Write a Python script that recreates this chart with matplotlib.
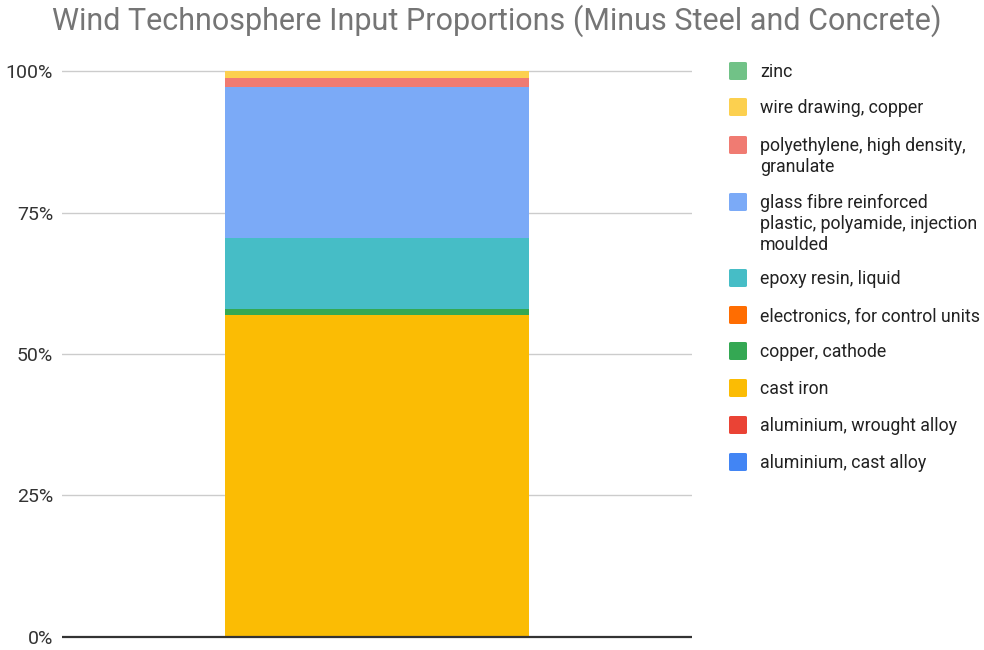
import matplotlib
matplotlib.use("Agg")
import matplotlib.pyplot as plt
from matplotlib.patches import FancyBboxPatch
import numpy as np

# Technosphere inputs, stacking order bottom -> top (percent of total)
materials = [
    "aluminium, cast alloy",
    "aluminium, wrought alloy",
    "cast iron",
    "copper, cathode",
    "electronics, for control units",
    "epoxy resin, liquid",
    "glass fibre reinforced plastic, polyamide, injection moulded",
    "polyethylene, high density, granulate",
    "wire drawing, copper",
    "zinc",
]
shares = [0.10, 0.05, 56.7, 1.1, 0.05, 12.5, 26.8, 1.5, 1.2, 0.02]
colors = ["#4285F4", "#EA4335", "#FBBC04", "#34A853", "#FF6D01",
          "#46BDC6", "#7BAAF7", "#F07B72", "#FCD04F", "#71C287"]
# wrapped labels for the legend
legend_labels = [
    "aluminium, cast alloy",
    "aluminium, wrought alloy",
    "cast iron",
    "copper, cathode",
    "electronics, for control units",
    "epoxy resin, liquid",
    "glass fibre reinforced\nplastic, polyamide, injection\nmoulded",
    "polyethylene, high density,\ngranulate",
    "wire drawing, copper",
    "zinc",
]
yticks = [0, 0.25, 0.5, 0.75, 1.0]
ytick_labels = ["0%", "25%", "50%", "75%", "100%"]
title = "Wind Technosphere Input Proportions (Minus Steel and Concrete)"

plt.rcParams["font.family"] = ["Roboto", "DejaVu Sans"]

W, H = 984, 650
fig = plt.figure(figsize=(W / 100, H / 100), dpi=100)

# axes placement in pixels
px_per_unit = 565.4
y_zero = 636.7
pad = 0.01
left, right = 62, 692
bot_px = y_zero + pad * px_per_unit
top_px = y_zero - (1 + pad) * px_per_unit
ax = fig.add_axes([left / W, (H - bot_px) / H, (right - left) / W, (bot_px - top_px) / H])
ax.set_xlim(0, 1)
ax.set_ylim(-pad, 1 + pad)

vals = np.array(shares) / np.sum(shares)
bottom = 0.0
for v, c in zip(vals, colors):
    ax.bar(0.5, v, width=0.4825, bottom=bottom, color=c, linewidth=0, zorder=2)
    bottom += v

for t in yticks[1:]:
    ax.axhline(t, color="#cccccc", linewidth=1.0, zorder=1)
ax.axhline(0, color="#333333", linewidth=1.6, zorder=3)

ax.set_yticks(yticks)
ax.set_yticklabels(ytick_labels, fontsize=14, color="#333333")
ax.tick_params(axis="y", length=0, pad=6.4)
ax.set_xticks([])
for s in ax.spines.values():
    s.set_visible(False)

fig.text(497 / W, 1 - 21 / H, title, ha="center", va="center",
         fontsize=22, color="#757575")

# legend, top entry first
row_y = [71, 107, 145, 202, 278, 315, 351, 388, 425, 462]
for lab, c, ry in zip(legend_labels[::-1], colors[::-1], row_y):
    sq = FancyBboxPatch(((729) / W, 1 - (ry + 9) / H), 18 / W, 18 / H,
                        boxstyle="round,pad=0,rounding_size=0.002",
                        transform=fig.transFigure, facecolor=c, edgecolor="none")
    fig.patches.append(sq)
    fig.text(760 / W, 1 - (ry - 8) / H, lab, ha="left", va="top",
             fontsize=12.8, color="#222222", linespacing=1.2)

fig.savefig("out.png", dpi=100, facecolor="white")
